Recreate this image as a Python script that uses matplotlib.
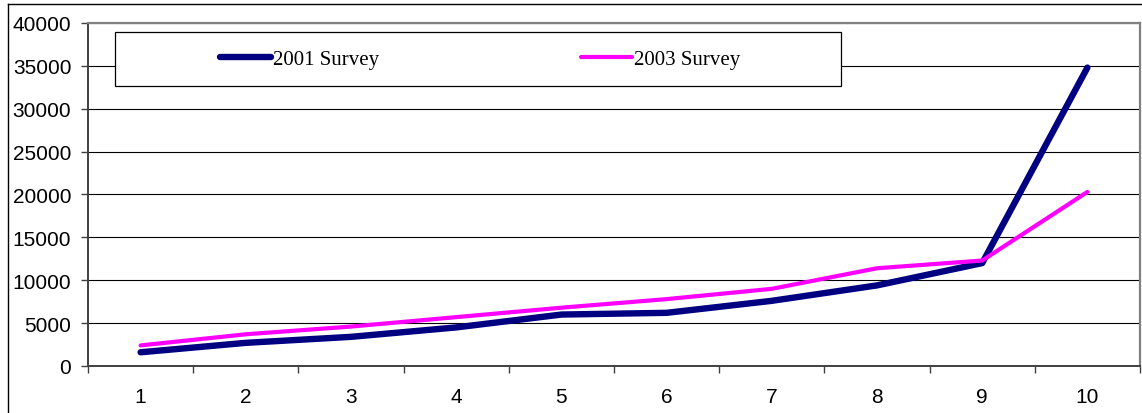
import matplotlib.pyplot as plt
from matplotlib.patches import Rectangle
from matplotlib.lines import Line2D

# Chart data
categories = [1, 2, 3, 4, 5, 6, 7, 8, 9, 10]
survey_2001 = [1600, 2700, 3400, 4500, 6000, 6200, 7600, 9400, 12000, 34800]
survey_2003 = [2400, 3700, 4600, 5700, 6800, 7800, 9000, 11400, 12300, 20300]
y_ticks = [0, 5000, 10000, 15000, 20000, 25000, 30000, 35000, 40000]

W, H = 1142, 414
fig = plt.figure(figsize=(W / 100, H / 100), dpi=100)
ax = fig.add_axes([88 / W, 1 - 367 / H, (1140 - 88) / W, (367 - 24) / H])

# Plot the two survey lines
ax.plot(categories, survey_2001, color='#000080', lw=4.6,
        solid_capstyle='round', solid_joinstyle='round', zorder=5)
ax.plot(categories, survey_2003, color='#FF00FF', lw=3.0,
        solid_capstyle='round', solid_joinstyle='round', zorder=6)

# Axes limits and ticks
ax.set_xlim(0.5, 10.5)
ax.set_ylim(0, 40000)
ax.set_yticks(y_ticks)
ax.set_yticklabels([str(v) for v in y_ticks], family='Liberation Sans',
                   fontsize=15)
ax.set_xticks(categories)
ax.set_xticklabels([str(c) for c in categories], family='Liberation Sans',
                   fontsize=15)
ax.set_xticks([c - 0.5 for c in categories] + [10.5], minor=True)
ax.tick_params(axis='x', which='major', length=0, pad=15, colors='black')
ax.tick_params(axis='x', which='minor', length=5, width=1, direction='out',
               color='#404040')
ax.tick_params(axis='y', length=5, width=1, direction='out', pad=7,
               color='#404040')

# Grid lines
ax.set_axisbelow(True)
ax.yaxis.grid(True, color='black', lw=0.8)

for side in ['top', 'right']:
    ax.spines[side].set_color('#808080')
    ax.spines[side].set_linewidth(1.6)
for side in ['left', 'bottom']:
    ax.spines[side].set_color('#404040')
    ax.spines[side].set_linewidth(1.4)

# Legend box
box = Rectangle((115 / W, 1 - 87 / H), (841 - 115) / W, (87 - 33) / H,
                transform=fig.transFigure, facecolor='white',
                edgecolor='black', lw=0.9, zorder=3)
ax.add_patch(box)

handles = [Line2D([], [], color='#000080', lw=4.6, solid_capstyle='round'),
           Line2D([], [], color='#FF00FF', lw=3.0, solid_capstyle='round')]
ax.legend(handles, ['2001 Survey', '2003 Survey'], ncol=2, frameon=False,
          loc='center', bbox_to_anchor=(480 / W, 1 - 60 / H),
          bbox_transform=fig.transFigure, handlelength=2.45,
          handletextpad=0.1, columnspacing=9.7,
          prop={'family': 'Liberation Serif', 'size': 15})

# Outer chart border
fig.add_artist(Line2D([8 / W, 8 / W], [0, 1 - 5 / H], color='black', lw=1,
                      transform=fig.transFigure))
fig.add_artist(Line2D([8 / W, 1], [1 - 5 / H, 1 - 5 / H], color='black',
                      lw=1, transform=fig.transFigure))

fig.savefig('out.png', dpi=100)
